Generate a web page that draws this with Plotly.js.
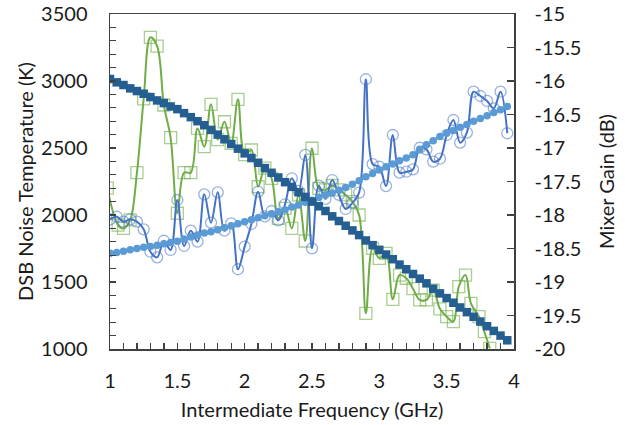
<!DOCTYPE html>
<html>
<head>
<meta charset="utf-8">
<script src="https://cdn.plot.ly/plotly-3.0.1.min.js"></script>
<style>html,body{margin:0;padding:0;background:#fff}#chart{width:625px;height:425px}</style>
</head>
<body>
<div id="chart"></div>
<script>
// Intermediate frequency grid (GHz)
const freq = [1.00,1.05,1.10,1.15,1.20,1.25,1.30,1.35,1.40,1.45,1.50,1.55,1.60,1.65,1.70,1.75,1.80,1.85,1.90,1.95,
  2.00,2.05,2.10,2.15,2.20,2.25,2.30,2.35,2.40,2.45,2.50,2.55,2.60,2.65,2.70,2.75,2.80,2.85,2.90,2.95,
  3.00,3.05,3.10,3.15,3.20,3.25,3.30,3.35,3.40,3.45,3.50,3.55,3.60,3.65,3.70,3.75,3.80,3.85,3.90,3.95];

// DSB noise temperature, measured (K) – green open squares
const freqNoiseA = [0.98,1.06,1.10,1.15,1.20,1.25,1.30,1.35,1.40,1.45,1.50,1.55,1.60,1.65,1.70,1.75,1.80,1.85,1.90,1.95,
  2.00,2.05,2.10,2.15,2.20,2.25,2.30,2.35,2.40,2.45,2.50,2.55,2.60,2.65,2.70,2.75,2.80,2.85,2.90,2.95,
  3.00,3.05,3.10,3.15,3.20,3.25,3.30,3.35,3.40,3.45,3.50,3.55,3.59,3.64,3.68,3.74,3.78,3.82];
const noiseA = [2200,1925,1900,1963,2316,2866,3326,3261,2821,2577,2013,2316,2316,2646,2510,2826,2563,2696,2535,2863,
  2450,2485,2211,2350,2274,1975,2050,1900,2150,1806,2498,2199,2187,2220,2187,2150,2100,2000,1266,1751,
  1677,1714,1371,1552,1528,1450,1366,1366,1440,1300,1241,1204,1465,1552,1341,1241,1129,1005];

// DSB noise temperature, measured (K) – blue open circles
const noiseB = [1968,1987,1950,1968,1950,1893,1726,1684,1808,1739,2112,1769,1883,1801,2154,1943,2169,1883,1938,1595,
  1764,1933,2174,1990,2030,1960,2080,2274,2180,2448,1751,2219,2120,2261,2150,2045,2090,2167,3013,2380,
  2360,2216,2597,2316,2323,2340,2502,2490,2398,2420,2597,2709,2540,2615,2920,2888,2851,2796,2920,2610];

// Mixer gain (dB) – dark blue filled squares
const gainA = [-15.97,-16.02,-16.06,-16.11,-16.15,-16.19,-16.24,-16.29,-16.33,-16.38,-16.42,-16.48,-16.54,-16.60,-16.66,-16.73,-16.80,-16.87,-16.94,-17.01,
  -17.08,-17.15,-17.22,-17.30,-17.37,-17.44,-17.51,-17.58,-17.66,-17.73,-17.80,-17.87,-17.94,-18.02,-18.09,-18.16,-18.23,-18.30,-18.38,-18.45,
  -18.52,-18.59,-18.66,-18.74,-18.81,-18.88,-18.95,-19.02,-19.10,-19.17,-19.24,-19.31,-19.38,-19.45,-19.52,-19.59,-19.66,-19.73,-19.80,-19.87];

// Mixer gain (dB) – light blue filled circles
const gainB = [-18.57,-18.56,-18.54,-18.52,-18.50,-18.48,-18.47,-18.45,-18.43,-18.41,-18.39,-18.36,-18.33,-18.30,-18.27,-18.25,-18.22,-18.19,-18.16,-18.13,
  -18.10,-18.07,-18.04,-18.01,-17.98,-17.95,-17.92,-17.88,-17.85,-17.81,-17.78,-17.74,-17.70,-17.67,-17.63,-17.59,-17.54,-17.49,-17.43,-17.38,
  -17.33,-17.28,-17.24,-17.19,-17.15,-17.10,-17.02,-16.95,-16.89,-16.83,-16.78,-16.74,-16.69,-16.65,-16.60,-16.56,-16.52,-16.47,-16.43,-16.38];

// Right-axis tick labels (hyphen minus as in the original)
const gainTicks = [-20,-19.5,-19,-18.5,-18,-17.5,-17,-16.5,-16,-15.5,-15];
const gainTickText = ['-20','-19.5','-19','-18.5','-18','-17.5','-17','-16.5','-16','-15.5','-15'];

const FONT = 'Lato, "Liberation Sans", sans-serif';
const AX = '#404040';
const TXT = '#1a1a1a';

const traces = [
  {x: freqNoiseA, y: noiseA, type: 'scatter', mode: 'lines+markers', yaxis: 'y', cliponaxis: true,
   line: {color: '#70AD47', width: 2, shape: 'spline', smoothing: 1},
   marker: {symbol: 'square-open', size: 12, color: 'rgba(112,173,71,0.6)', line: {width: 1.3}}},
  {x: freq, y: noiseB, type: 'scatter', mode: 'lines+markers', yaxis: 'y',
   line: {color: '#4472C4', width: 2, shape: 'spline', smoothing: 1},
   marker: {symbol: 'circle-open', size: 11, color: 'rgba(68,114,196,0.55)', line: {width: 1.3}}},
  {x: freq, y: gainB, type: 'scatter', mode: 'lines+markers', yaxis: 'y2',
   line: {color: '#5B9BD5', width: 2.5, shape: 'spline'},
   marker: {symbol: 'circle', size: 7.5, color: '#5B9BD5'}},
  {x: freq, y: gainA, type: 'scatter', mode: 'lines+markers', yaxis: 'y2',
   line: {color: '#255E91', width: 2},
   marker: {symbol: 'square', size: 8.5, color: '#255E91'}}
];

const layout = {
  width: 625, height: 425,
  margin: {l: 110, r: 111, t: 14, b: 76},
  paper_bgcolor: '#ffffff', plot_bgcolor: '#ffffff',
  showlegend: false,
  font: {family: FONT, size: 20, color: TXT},
  xaxis: {
    range: [1, 4], dtick: 0.5, tick0: 1, showgrid: false, zeroline: false,
    ticks: 'inside', ticklen: 6, tickcolor: AX, tickwidth: 1.3,
    minor: {dtick: 0.1, ticks: 'inside', ticklen: 6, tickcolor: AX, tickwidth: 1.3, showgrid: false},
    showline: true, linecolor: AX, linewidth: 1.5, mirror: true,
    ticklabelstandoff: 13,
    tickfont: {family: FONT, size: 20, color: TXT},
    title: {text: 'Intermediate Frequency (GHz)', font: {family: FONT, size: 20, color: TXT}, standoff: 12}
  },
  yaxis: {
    range: [1000, 3500], dtick: 500, showgrid: false, zeroline: false,
    ticks: 'inside', ticklen: 6, tickcolor: AX, tickwidth: 1.3,
    minor: {dtick: 100, ticks: 'inside', ticklen: 6, tickcolor: AX, tickwidth: 1.3, showgrid: false},
    showline: true, linecolor: AX, linewidth: 1.5,
    ticklabelstandoff: 17,
    tickfont: {family: FONT, size: 20, color: TXT},
    title: {text: 'DSB Noise Temperature (K)', font: {family: FONT, size: 20, color: TXT}, standoff: 2}
  },
  yaxis2: {
    range: [-20, -15], tickmode: 'array', tickvals: gainTicks, ticktext: gainTickText,
    overlaying: 'y', side: 'right', showgrid: false, zeroline: false,
    ticks: 'inside', ticklen: 7, tickcolor: AX, tickwidth: 1.3,
    showline: true, linecolor: AX, linewidth: 1.5,
    ticklabelstandoff: 15,
    tickfont: {family: FONT, size: 20, color: TXT},
    title: {text: 'Mixer Gain (dB)', font: {family: FONT, size: 20, color: TXT}, standoff: 19}
  }
};

Plotly.newPlot('chart', traces, layout, {displayModeBar: false, staticPlot: true});
</script>
</body>
</html>
